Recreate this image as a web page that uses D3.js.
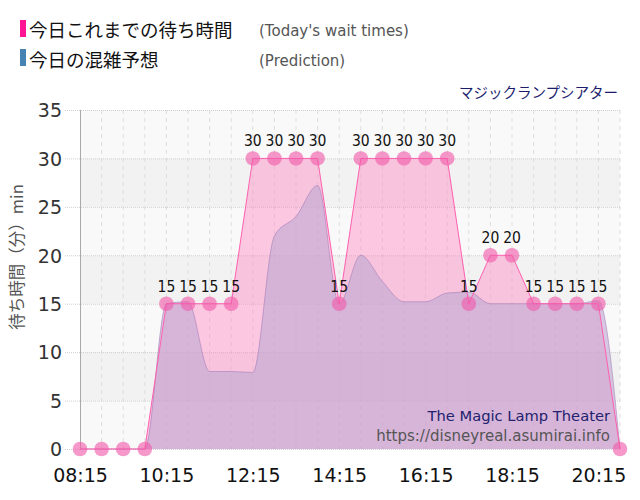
<!DOCTYPE html>
<html><head><meta charset="utf-8">
<script src="https://cdn.jsdelivr.net/npm/d3@7"></script>
<style>
html,body{margin:0;padding:0;background:#fff;}
svg{display:block;}
</style></head>
<body>
<svg id="chart" width="640" height="500"></svg>
<script>
const times = ["08:15","08:45","09:15","09:45","10:15","10:45","11:15","11:45","12:15","12:45","13:15","13:45","14:15","14:45","15:15","15:45","16:15","16:45","17:15","17:45","18:15","18:45","19:15","19:45","20:15","20:45"];
const waitTimes = [0,0,0,0,15,15,15,15,30,30,30,30,15,30,30,30,30,30,15,20,20,15,15,15,15,0];
const prediction = [0,0,0,0,15,15.2,8,8,7.9,22,24,27.2,15,20,17.3,15.2,15.2,16.1,16.2,15,15,15,15,15,15.3,0];
const xTickLabels = ["08:15","10:15","12:15","14:15","16:15","18:15","20:15"];
const yTicks = [0,5,10,15,20,25,30,35];

const JP = "'Noto Sans CJK JP','DejaVu Sans',sans-serif";
const LAT = "'DejaVu Sans',sans-serif";
const COND = "'DejaVu Sans Condensed','DejaVu Sans',sans-serif";
const svg = d3.select("#chart");
const L = 80, R = 620, T = 110, B = 449;
const x = d3.scaleLinear().domain([0, times.length - 1]).range([L, R]);
const y = d3.scaleLinear().domain([0, 35]).range([B, T]);

// background bands
const bands = d3.range(0, 35, 5);
svg.append("g").selectAll("rect").data(bands).join("rect")
  .attr("x", L).attr("width", R - L)
  .attr("y", d => y(d + 5)).attr("height", d => y(d) - y(d + 5))
  .attr("fill", (d, i) => (i % 2 === 0) ? "#f9f9f9" : "#f2f2f2");

// vertical dashed grid
svg.append("g").selectAll("line").data(d3.range(1, times.length)).join("line")
  .attr("x1", d => x(d)).attr("x2", d => x(d)).attr("y1", T).attr("y2", B)
  .attr("stroke", "#dedede").attr("stroke-dasharray", "4,4").attr("stroke-width", 1);

// horizontal dotted grid
svg.append("g").selectAll("line").data(yTicks).join("line")
  .attr("x1", 65).attr("x2", R).attr("y1", d => y(d) + 0.5).attr("y2", d => y(d) + 0.5)
  .attr("stroke", "#cfcfcf").attr("stroke-dasharray", "1,1").attr("stroke-width", 1);

// left axis line
svg.append("line").attr("x1", L + 0.5).attr("x2", L + 0.5).attr("y1", T).attr("y2", B)
  .attr("stroke", "#aaa");

// y axis labels
const yAxis = d3.axisLeft(y).tickValues(yTicks).tickSize(0).tickPadding(0);
const gy = svg.append("g").attr("transform", `translate(62,0)`).call(yAxis);
gy.select(".domain").remove();
gy.selectAll("text").attr("font-family", LAT).attr("font-size", 19).attr("fill", "#333").attr("dy", "0.36em");

// x axis labels
const xAxis = d3.axisBottom(x).tickValues(xTickLabels.map(t => times.indexOf(t)))
  .tickFormat(i => times[i]).tickSize(0).tickPadding(0);
const gx = svg.append("g").attr("transform", `translate(0,${B})`).call(xAxis);
gx.select(".domain").remove();
gx.selectAll("text").attr("font-family", LAT).attr("font-size", 19).attr("fill", "#111").attr("dy", "1.75em");

// pink area (today's wait)
const areaLin = d3.area().x((d, i) => x(i)).y0(y(0)).y1(d => y(d));
svg.append("path").datum(waitTimes).attr("d", areaLin)
  .attr("fill", "rgba(255,125,190,0.4)");

// prediction area
const areaSm = d3.area().x((d, i) => x(i)).y0(y(0)).y1(d => y(d)).curve(d3.curveMonotoneX);
const lineSm = d3.line().x((d, i) => x(i)).y(d => y(d)).curve(d3.curveMonotoneX);
svg.append("path").datum(prediction).attr("d", areaSm)
  .attr("fill", "rgba(192,170,212,0.62)");
svg.append("path").datum(prediction).attr("d", lineSm)
  .attr("fill", "none").attr("stroke", "rgba(160,120,180,0.55)").attr("stroke-width", 1);

// pink line
const lineLin = d3.line().x((d, i) => x(i)).y(d => y(d));
svg.append("path").datum(waitTimes).attr("d", lineLin)
  .attr("fill", "none").attr("stroke", "#ff5fae").attr("stroke-width", 1);

// points
svg.append("g").selectAll("circle").data(waitTimes).join("circle")
  .attr("cx", (d, i) => x(i)).attr("cy", d => y(d)).attr("r", 7.3)
  .attr("fill", "rgba(240,90,170,0.62)");

// labels
svg.append("g").selectAll("text").data(waitTimes.map((v, i) => ({v, i})).filter(d => d.v > 0)).join("text")
  .attr("x", d => x(d.i)).attr("y", d => y(d.v) - 12)
  .attr("text-anchor", "middle").attr("font-family", COND).attr("font-size", 15.5).attr("fill", "#111")
  .text(d => d.v);

// legend
svg.append("rect").attr("x", 20).attr("y", 20).attr("width", 6).attr("height", 17).attr("fill", "#ff1493");
svg.append("rect").attr("x", 20).attr("y", 49).attr("width", 6).attr("height", 17).attr("fill", "#4682b4");
svg.append("text").attr("x", 29).attr("y", 37).attr("font-family", JP).attr("font-size", 18.5).attr("fill", "#111").text("今日これまでの待ち時間");
svg.append("text").attr("x", 29).attr("y", 67).attr("font-family", JP).attr("font-size", 18.5).attr("fill", "#111").text("今日の混雑予想");
svg.append("text").attr("x", 259).attr("y", 36).attr("font-family", LAT).attr("font-size", 15).attr("fill", "#555").text("(Today's wait times)");
svg.append("text").attr("x", 259).attr("y", 66).attr("font-family", LAT).attr("font-size", 15).attr("fill", "#555").text("(Prediction)");

// title
svg.append("text").attr("x", 618).attr("y", 98).attr("text-anchor", "end")
  .attr("font-family", JP).attr("font-size", 14.5).attr("fill", "#1c1c6e").text("マジックランプシアター");

// y label
svg.append("text").attr("transform", "translate(23,257) rotate(-90)").attr("text-anchor", "middle")
  .attr("font-family", JP).attr("font-size", 16.5).attr("fill", "#555").text("待ち時間（分）min");

// watermark
svg.append("text").attr("x", 610).attr("y", 421).attr("text-anchor", "end")
  .attr("font-family", LAT).attr("font-size", 14.7).attr("fill", "#22226e").text("The Magic Lamp Theater");
svg.append("text").attr("x", 610).attr("y", 441).attr("text-anchor", "end")
  .attr("font-family", LAT).attr("font-size", 15).attr("fill", "#555").text("https://disneyreal.asumirai.info");
</script>
</body></html>
